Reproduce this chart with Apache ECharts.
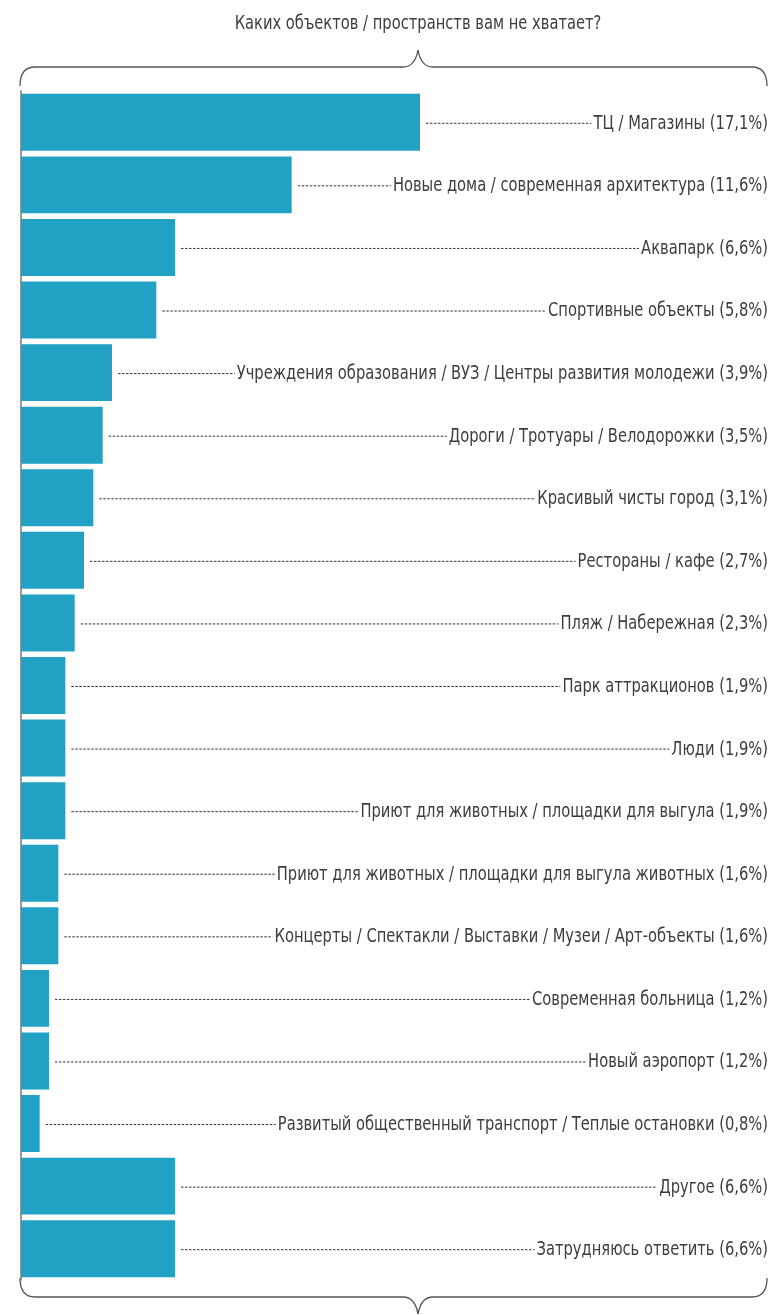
<!DOCTYPE html>
<html>
<head>
<meta charset="utf-8">
<script src="https://cdn.jsdelivr.net/npm/echarts@6/dist/echarts.min.js"></script>
<style>
  html, body { margin: 0; padding: 0; background: #fff; }
  #chart { width: 769px; height: 1315px; }
</style>
</head>
<body>
<div id="chart"></div>
<script>
// Survey answers: which objects / spaces are missing in the city
const categories = [
  'ТЦ / Магазины',
  'Новые дома / современная архитектура',
  'Аквапарк',
  'Спортивные объекты',
  'Учреждения образования / ВУЗ / Центры развития молодежи',
  'Дороги / Тротуары / Велодорожки',
  'Красивый чисты город',
  'Рестораны / кафе',
  'Пляж / Набережная',
  'Парк аттракционов',
  'Люди',
  'Приют для животных / площадки для выгула',
  'Приют для животных / площадки для выгула животных',
  'Концерты / Спектакли / Выставки / Музеи / Арт-объекты',
  'Современная больница',
  'Новый аэропорт',
  'Развитый общественный транспорт / Теплые остановки',
  'Другое',
  'Затрудняюсь ответить'
];
const values = [17.1, 11.6, 6.6, 5.8, 3.9, 3.5, 3.1, 2.7, 2.3, 1.9, 1.9, 1.9, 1.6, 1.6, 1.2, 1.2, 0.8, 6.6, 6.6];
const titleText = 'Каких объектов / пространств вам не хватает?';

const W = 769, H = 1315;
const FONT_FAMILY = '"DejaVu Sans Condensed", "DejaVu Sans", sans-serif';
const FONT_SIZE = 19;
const SQUEEZE = 0.86;            // horizontal squeeze for a narrow look
const TEXT_COLOR = '#3d3d3d';
const BAR_COLOR = '#21a1c4';
const FRAME_COLOR = '#555';
const FONT = FONT_SIZE + 'px ' + FONT_FAMILY;

const grid = { left: 21, top: 91, width: 700, height: 1189 };
const braceTop = 67, braceBottom = 1297, braceMid = 418;
const braceL = 20, braceR = 767, r = 15, notch = 17;

const fmt = v => v.toFixed(1).replace('.', ',');
const labelTexts = categories.map((c, i) => c + ' (' + fmt(values[i]) + '%)');

const measureCtx = document.createElement('canvas').getContext('2d');
measureCtx.font = FONT;
const textWidth = s => measureCtx.measureText(s).width * SQUEEZE;

// one curly brace as lines + quadratic curves; dir = -1 notch up, +1 notch down
function brace(y, dir) {
  const sty = { fill: 'none', stroke: FRAME_COLOR, lineWidth: 1.3 };
  const endY = y - dir * (r + 4);
  return [
    { type: 'bezierCurve', shape: { x1: braceL, y1: endY, cpx1: braceL, cpy1: y, x2: braceL + r, y2: y }, style: sty },
    { type: 'line', shape: { x1: braceL + r, y1: y, x2: braceMid - r, y2: y }, style: sty },
    { type: 'bezierCurve', shape: { x1: braceMid - r, y1: y, cpx1: braceMid - 3, cpy1: y, x2: braceMid, y2: y + dir * notch }, style: sty },
    { type: 'bezierCurve', shape: { x1: braceMid, y1: y + dir * notch, cpx1: braceMid + 3, cpy1: y, x2: braceMid + r, y2: y }, style: sty },
    { type: 'line', shape: { x1: braceMid + r, y1: y, x2: braceR - r, y2: y }, style: sty },
    { type: 'bezierCurve', shape: { x1: braceR - r, y1: y, cpx1: braceR, cpy1: y, x2: braceR, y2: endY }, style: sty }
  ];
}

const chart = echarts.init(document.getElementById('chart'), null, { renderer: 'canvas' });

chart.setOption({
  animation: false,
  backgroundColor: '#fff',
  grid: grid,
  xAxis: { type: 'value', min: 0, max: 30, show: false },
  yAxis: {
    type: 'category',
    data: categories,
    inverse: true,
    axisLine: { show: true, lineStyle: { color: '#777', width: 1.5 } },
    axisTick: { show: false },
    axisLabel: { show: false }
  },
  graphic: [
    {
      type: 'text', x: braceMid, y: 24, scaleX: SQUEEZE,
      style: { x: 0, y: 0, text: titleText, align: 'center', verticalAlign: 'middle', font: FONT, fill: TEXT_COLOR }
    }
  ].concat(brace(braceTop, -1), brace(braceBottom, 1)),
  series: [
    {
      type: 'bar',
      data: values,
      barCategoryGap: '9%',
      itemStyle: { color: BAR_COLOR },
      silent: true
    },
    {
      // dashed leader from each bar to its right-aligned label
      type: 'custom',
      data: values.map((v, i) => [v, i]),
      encode: { x: 0, y: 1 },
      silent: true,
      z: 3,
      renderItem: function (params, api) {
        const i = api.value(1);
        const p = api.coord([api.value(0), i]);
        const txt = labelTexts[i];
        const tx = W - 1;
        const tw = textWidth(txt);
        return {
          type: 'group',
          children: [
            {
              type: 'line',
              shape: { x1: p[0] + 6, y1: p[1] + 1, x2: tx - tw - 2, y2: p[1] + 1 },
              style: { stroke: '#333', lineWidth: 1, lineDash: [2.5, 1.5] }
            },
            {
              type: 'text',
              x: tx, y: p[1] + 1.5, scaleX: SQUEEZE,
              style: {
                x: 0, y: 0, text: txt,
                align: 'right', verticalAlign: 'middle',
                font: FONT, fill: TEXT_COLOR
              }
            }
          ]
        };
      }
    }
  ]
});
</script>
</body>
</html>
